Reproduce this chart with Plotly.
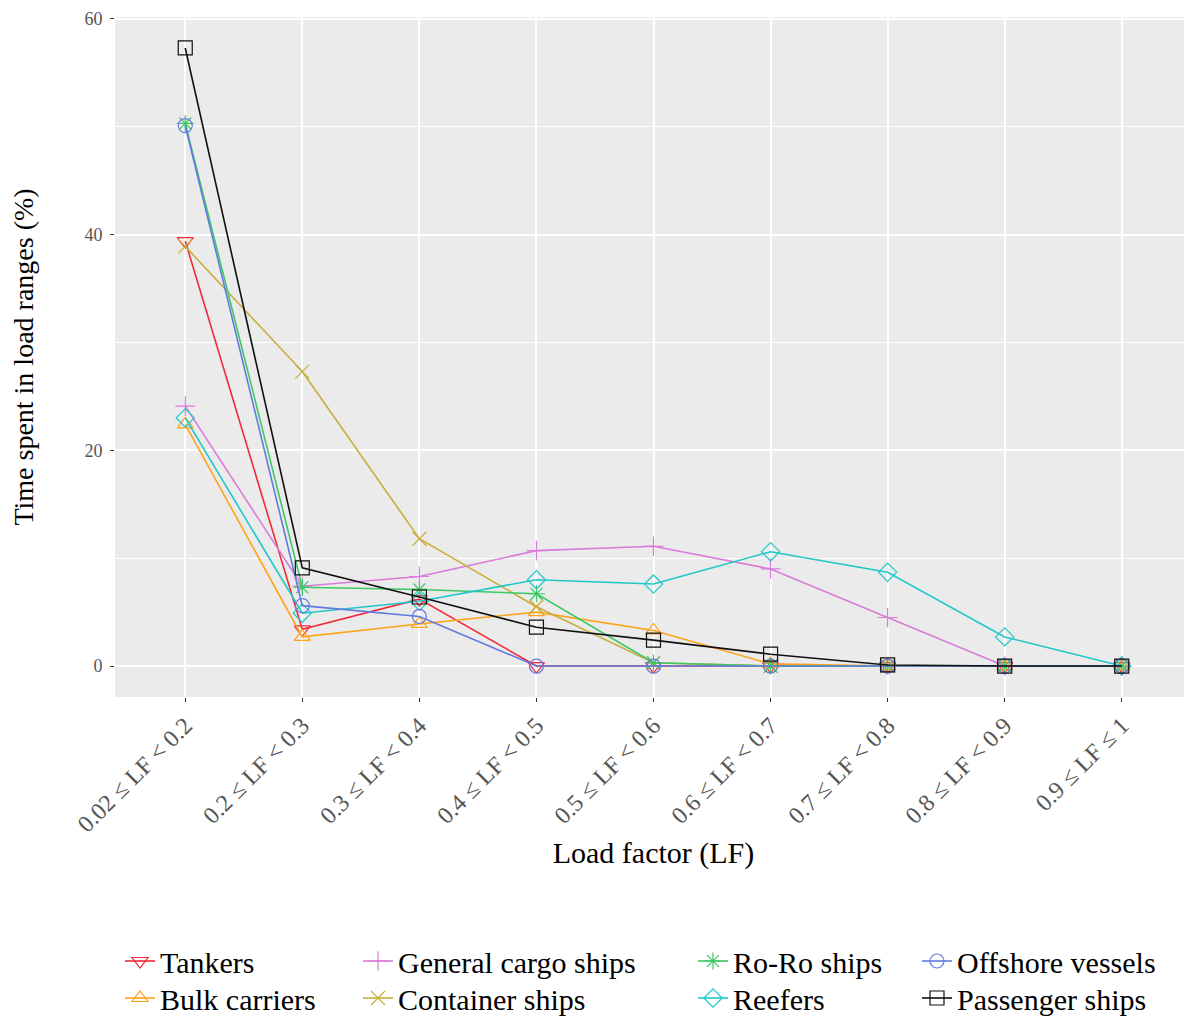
import plotly.graph_objects as go

categories = ["0.02 ≤ LF < 0.2", "0.2 ≤ LF < 0.3", "0.3 ≤ LF < 0.4", "0.4 ≤ LF < 0.5",
              "0.5 ≤ LF < 0.6", "0.6 ≤ LF < 0.7", "0.7 ≤ LF < 0.8", "0.8 ≤ LF < 0.9",
              "0.9 ≤ LF ≤ 1"]

tankers = [39.4, 3.4, 6.2, 0, 0, 0, 0, 0, 0]
bulk_carriers = [22.4, 2.7, 3.9, 5.0, 3.3, 0.2, 0, 0, 0]
general_cargo = [24.1, 7.4, 8.3, 10.7, 11.1, 9.0, 4.5, 0, 0]
container_ships = [38.9, 27.3, 11.8, 5.5, 0.3, 0, 0, 0, 0]
roro_ships = [50.3, 7.3, 7.1, 6.7, 0.3, 0, 0, 0, 0]
reefers = [23.0, 4.9, 6.0, 8.0, 7.6, 10.6, 8.7, 2.7, 0]
offshore_vessels = [50.1, 5.6, 4.6, 0, 0, 0, 0, 0, 0]
passenger_ships = [57.3, 9.1, 6.4, 3.6, 2.4, 1.1, 0.1, 0, 0]

y_ticks = [0, 20, 40, 60]

serif = "Liberation Serif, Times New Roman, serif"
OFF = 8  # page body margin
W, H = 1192 - OFF, 1019 - OFF
ml, mr, mt = 115 - OFF, 0, 17 - OFF
mb = H - (697 - OFF)
pw = W - ml - mr
ph = H - mt - mb

def px_x(px):
    return (px - OFF - ml) / pw

def px_y(py):
    return (H - mb - (py - OFF)) / ph

# legend column left edges / row top edges (page pixels)
col_x = [120, 358, 693, 917]
row_y = [935, 972]

series = [
    ("Tankers", tankers, "#F2293A", "triangle-down-open", 0, 0),
    ("Bulk carriers", bulk_carriers, "#FFA31A", "triangle-up-open", 0, 1),
    ("General cargo ships", general_cargo, "#DA7BDA", "cross-thin-open", 1, 0),
    ("Container ships", container_ships, "#C9AE3C", "x-thin-open", 1, 1),
    ("Ro-Ro ships", roro_ships, "#3DC864", "asterisk-open", 2, 0),
    ("Reefers", reefers, "#1EC8C8", "diamond-open", 2, 1),
    ("Offshore vessels", offshore_vessels, "#6479E0", "circle-open", 3, 0),
    ("Passenger ships", passenger_ships, "#111111", "square-open", 3, 1),
]

leg_common = dict(orientation="v", yanchor="top", xanchor="left",
                  font=dict(family=serif, size=30, color="black"),
                  bgcolor="rgba(0,0,0,0)", tracegroupgap=0, itemwidth=30,
                  visible=True)

fig = go.Figure()
legends = {}
for i, (name, vals, color, symbol, c, r) in enumerate(series):
    key = "legend" if i == 0 else f"legend{i + 1}"
    fig.add_trace(go.Scatter(
        x=categories, y=vals, name=name, mode="lines+markers",
        line=dict(color=color, width=1.6),
        marker=dict(symbol=symbol, size=14, color=color, line=dict(color=color, width=1.2)),
        legend=key, showlegend=True,
    ))
    legends[key] = dict(x=px_x(col_x[c]), y=px_y(row_y[r]), **leg_common)

fig.update_layout(
    width=W, height=H,
    showlegend=True,
    margin=dict(l=ml, r=mr, t=mt, b=mb, autoexpand=False),
    paper_bgcolor="white",
    plot_bgcolor="#EBEBEB",
    font=dict(family=serif),
    xaxis=dict(
        type="category", range=[-0.6, 8.6], automargin=False,
        showgrid=True, gridcolor="white", gridwidth=1.5,
        tickangle=-45, ticks="outside", ticklen=4, tickcolor="#333333",
        tickfont=dict(family=serif, size=24, color="#555555"),
        title=dict(text="Load factor (LF)", font=dict(family=serif, size=30, color="black"), standoff=5),
        zeroline=False, showline=False,
    ),
    yaxis=dict(
        range=[-2.87, 60.17], automargin=False,
        tickvals=y_ticks,
        showgrid=True, gridcolor="white", gridwidth=1.5,
        minor=dict(dtick=10, tick0=0, showgrid=True, gridcolor="white", gridwidth=0.6),
        ticks="outside", ticklen=4, tickcolor="#333333", ticklabelstandoff=4,
        tickfont=dict(family=serif, size=18, color="#555555"),
        title=dict(text="Time spent in load ranges (%)", font=dict(family=serif, size=28, color="black"), standoff=42),
        zeroline=False, showline=False,
    ),
    **legends,
)

fig.write_html("out.html")
